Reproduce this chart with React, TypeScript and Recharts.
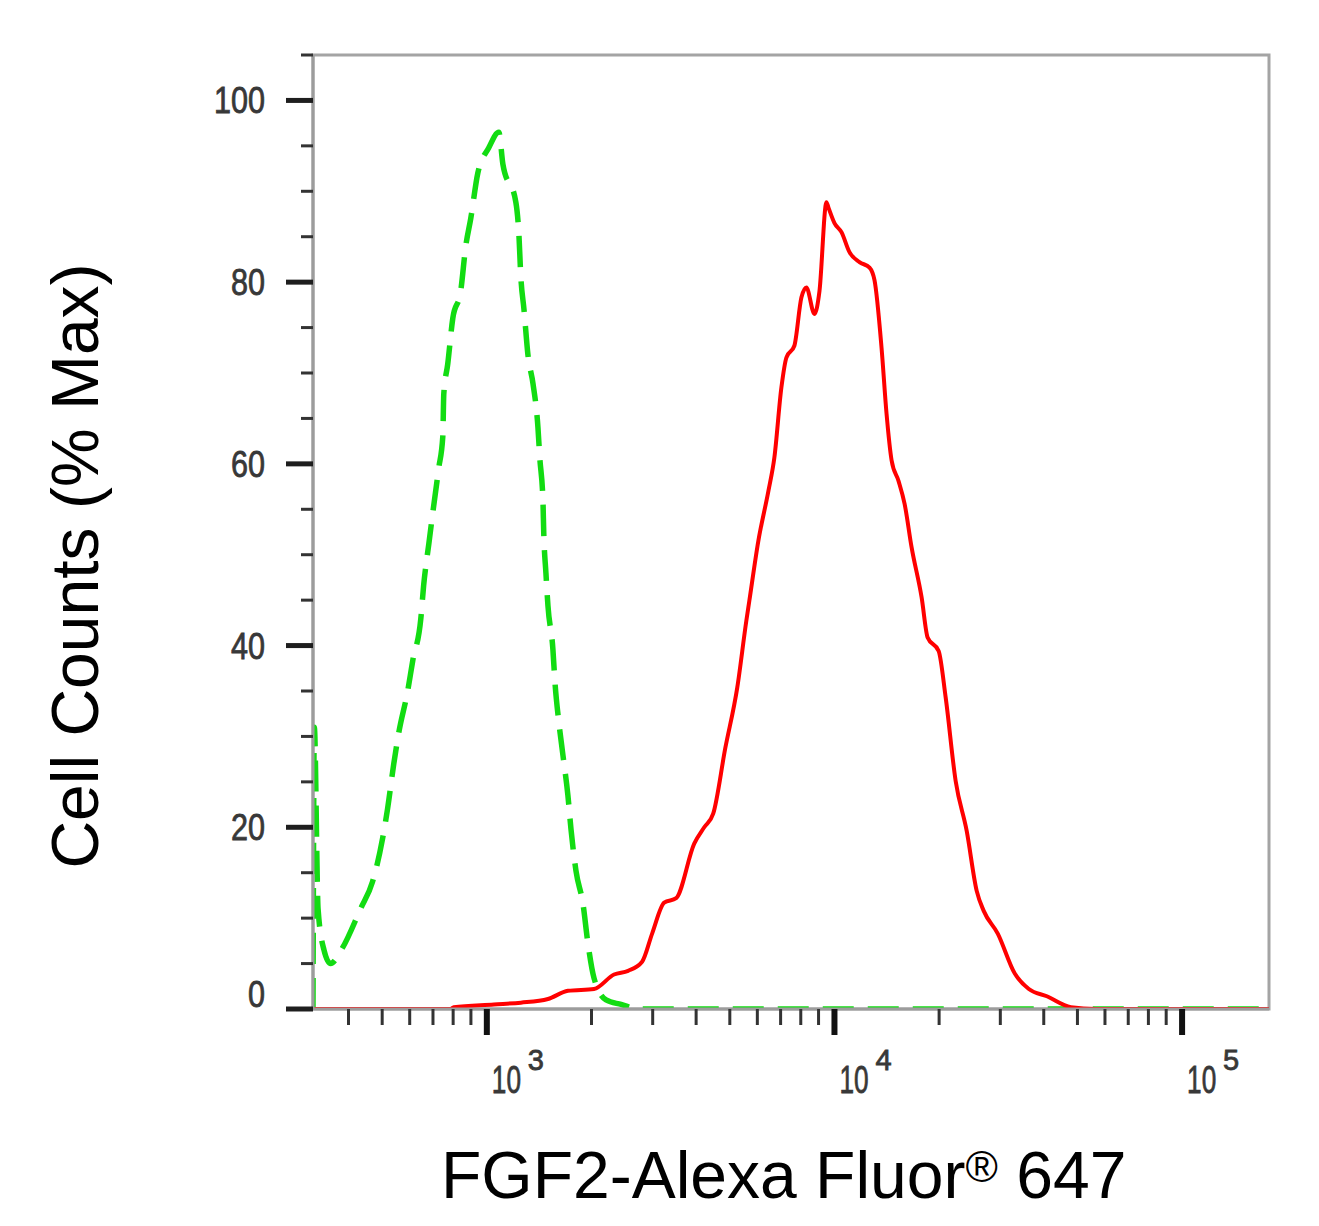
import React from 'react';
import { LineChart, Line, XAxis, YAxis, ReferenceArea } from 'recharts';

// Isotype control (green dashed)
const greenX = [316.2, 319, 327, 340, 355, 384, 433, 469, 501, 518, 540, 558, 592, 612, 646, 658, 681, 699, 727, 747, 752, 772, 798, 841, 870, 899, 942, 1013, 1083, 1112, 1212, 1236, 1253, 1279, 1313, 1358, 1403, 1420, 1450, 1458, 1479, 1499, 1549, 1570, 1612, 1656, 1711, 1746, 1805, 1890, 1954, 2034, 2203, 2434, 2725, 177828];
const greenY = [0, 31, 11, 6.5, 5, 6.7, 11, 14, 18.7, 22, 27, 30.4, 35, 38.3, 43, 46.6, 51.2, 54.6, 59.5, 63, 67.7, 71, 76, 79, 84, 87, 92, 94.8, 96.5, 93, 88.8, 85.4, 80.5, 77, 72, 68.8, 64, 60.7, 56, 52.4, 48, 44.4, 39.6, 36, 31.5, 27.9, 23.5, 19.8, 15.2, 11.6, 7.2, 3.4, 1, 0.5, 0, 0];

// FGF2 stained (red solid)
const redX = [316.2, 788, 803, 1048, 1253, 1499, 1711, 2034, 2323, 2549, 2797, 2989, 3237, 3505, 3950, 4221, 4479, 4852, 5254, 5577, 5689, 6039, 6455, 6717, 7036, 7273, 7668, 8033, 8304, 8759, 9054, 9483, 9610, 10000, 10476, 11046, 11803, 12616, 13041, 13658, 14121, 14598, 15291, 15914, 16670, 17812, 18535, 19940, 20887, 22316, 24010, 25654, 26874, 29496, 33015, 36234, 40833, 47863, 56519, 177828];
const redY = [0, 0, 0.2, 0.5, 0.7, 1.1, 2, 2.2, 3.8, 4.2, 5.2, 8.3, 11.7, 12.2, 18.2, 20, 21.5, 28.7, 35.4, 42.7, 44.9, 51.5, 57, 60.7, 68.4, 71.7, 73, 78.3, 79.4, 76.5, 79, 88.8, 88.2, 86.5, 85.5, 83.3, 82.2, 81.6, 80.2, 72.8, 65.5, 60.4, 58.1, 55.6, 50.8, 45.3, 40.9, 39.4, 34.3, 25.1, 19.6, 13, 10.8, 8.3, 3.9, 2.2, 1.4, 0.2, 0, 0];

const xDomain = [316.2, 177828];
const yDomain = [0, 105];
const xTicks = [400, 500, 600, 700, 800, 900, 1000, 2000, 3000, 4000, 5000, 6000, 7000, 8000, 9000, 10000, 20000, 30000, 40000, 50000, 60000, 70000, 80000, 90000, 100000];
const yTicks = [0, 5, 10, 15, 20, 25, 30, 35, 40, 45, 50, 55, 60, 65, 70, 75, 80, 85, 90, 95, 100, 105];
const yLabeled = [0, 20, 40, 60, 80, 100];

const greenData = greenX.map((x, i) => ({ x, y: greenY[i] }));
const redData = redX.map((x, i) => ({ x, y: redY[i] }));

const FONT = '"Liberation Sans", Arial, Helvetica, sans-serif';

const YTick = (props: any) => {
  const { x, y, payload } = props;
  const v = payload.value;
  const major = yLabeled.includes(v);
  const len = major ? 27 : 12;
  const s = String(v);
  return (
    <g>
      <line x1={x - len} x2={x} y1={y} y2={y} stroke={major ? '#1e1e1e' : '#333'} strokeWidth={major ? 5 : 3} />
      {major && (
        <text
          x={x - 48}
          y={y + (v === 0 ? -2 : 13)}
          textAnchor="end"
          fontSize={36}
          fontFamily={FONT}
          fill="#383838"
          stroke="#383838"
          strokeWidth={0.8}
          textLength={s.length * 17}
          lengthAdjust="spacingAndGlyphs"
        >
          {s}
        </text>
      )}
    </g>
  );
};

const XTick = (props: any) => {
  const { x, y, payload } = props;
  const v = payload.value;
  const e = Math.round(Math.log10(v));
  const major = Math.abs(Math.pow(10, e) - v) < 1e-6;
  const len = major ? 26 : 16;
  return (
    <g>
      <line x1={x} x2={x} y1={y} y2={y + len} stroke={major ? '#111' : '#333'} strokeWidth={major ? 6 : 3} />
      {major && (
        <g fontFamily={FONT} fill="#383838" stroke="#383838" strokeWidth={0.8}>
          <text transform={`translate(${x + 5},${y + 84}) scale(0.69,1)`} x={0} y={0} fontSize={38}>10</text>
          <text x={x + 41} y={y + 61} fontSize={29}>{e}</text>
        </g>
      )}
    </g>
  );
};

export default function App() {
  return (
    <div style={{ position: 'relative', width: 1300, height: 1210, fontFamily: FONT }}>
      <LineChart width={1300} height={1210} margin={{ top: 47, right: 39, bottom: 149, left: 225 }}>
        <XAxis
          dataKey="x"
          type="number"
          scale="log"
          domain={xDomain}
          allowDataOverflow
          ticks={xTicks}
          interval={0}
          height={60}
          tickSize={0}
          tickMargin={0}
          tickLine={false}
          axisLine={{ stroke: '#9c9c9c', strokeWidth: 3 }}
          tick={<XTick />}
        />
        <YAxis
          type="number"
          domain={yDomain}
          allowDataOverflow
          ticks={yTicks}
          interval={0}
          width={80}
          tickSize={0}
          tickMargin={0}
          tickLine={false}
          axisLine={{ stroke: '#9c9c9c', strokeWidth: 3 }}
          tick={<YTick />}
        />
        <ReferenceArea
          x1={xDomain[0]}
          x2={xDomain[1]}
          y1={yDomain[0]}
          y2={yDomain[1]}
          fill="none"
          fillOpacity={0}
          stroke="#a4a4a4"
          strokeWidth={3}
          ifOverflow="visible"
        />
        <Line
          data={greenData}
          dataKey="y"
          type="monotone"
          stroke="#12dc12"
          strokeWidth={5.5}
          strokeDasharray="31 14"
          dot={false}
          activeDot={false}
          isAnimationActive={false}
        />
        <Line
          data={redData}
          dataKey="y"
          type="monotone"
          stroke="#ff0000"
          strokeWidth={4}
          dot={false}
          activeDot={false}
          isAnimationActive={false}
        />
      </LineChart>
      <div
        style={{
          position: 'absolute',
          left: 75 - 8 - 400,
          top: 566 - 8 - 33,
          width: 800,
          height: 66,
          lineHeight: '66px',
          fontSize: 66,
          textAlign: 'center',
          whiteSpace: 'nowrap',
          color: '#000',
          transform: 'rotate(-90deg)',
          transformOrigin: 'center center',
        }}
      >
        Cell Counts (% Max)
      </div>
      <div
        style={{
          position: 'absolute',
          left: 441 - 8,
          top: 1142 - 8,
          height: 66,
          lineHeight: '66px',
          fontSize: 66,
          whiteSpace: 'nowrap',
          color: '#000',
        }}
      >
        FGF2-Alexa Fluor
        <span style={{ fontSize: 44, position: 'relative', top: -16 }}>®</span>
        {' 647'}
      </div>
    </div>
  );
}
